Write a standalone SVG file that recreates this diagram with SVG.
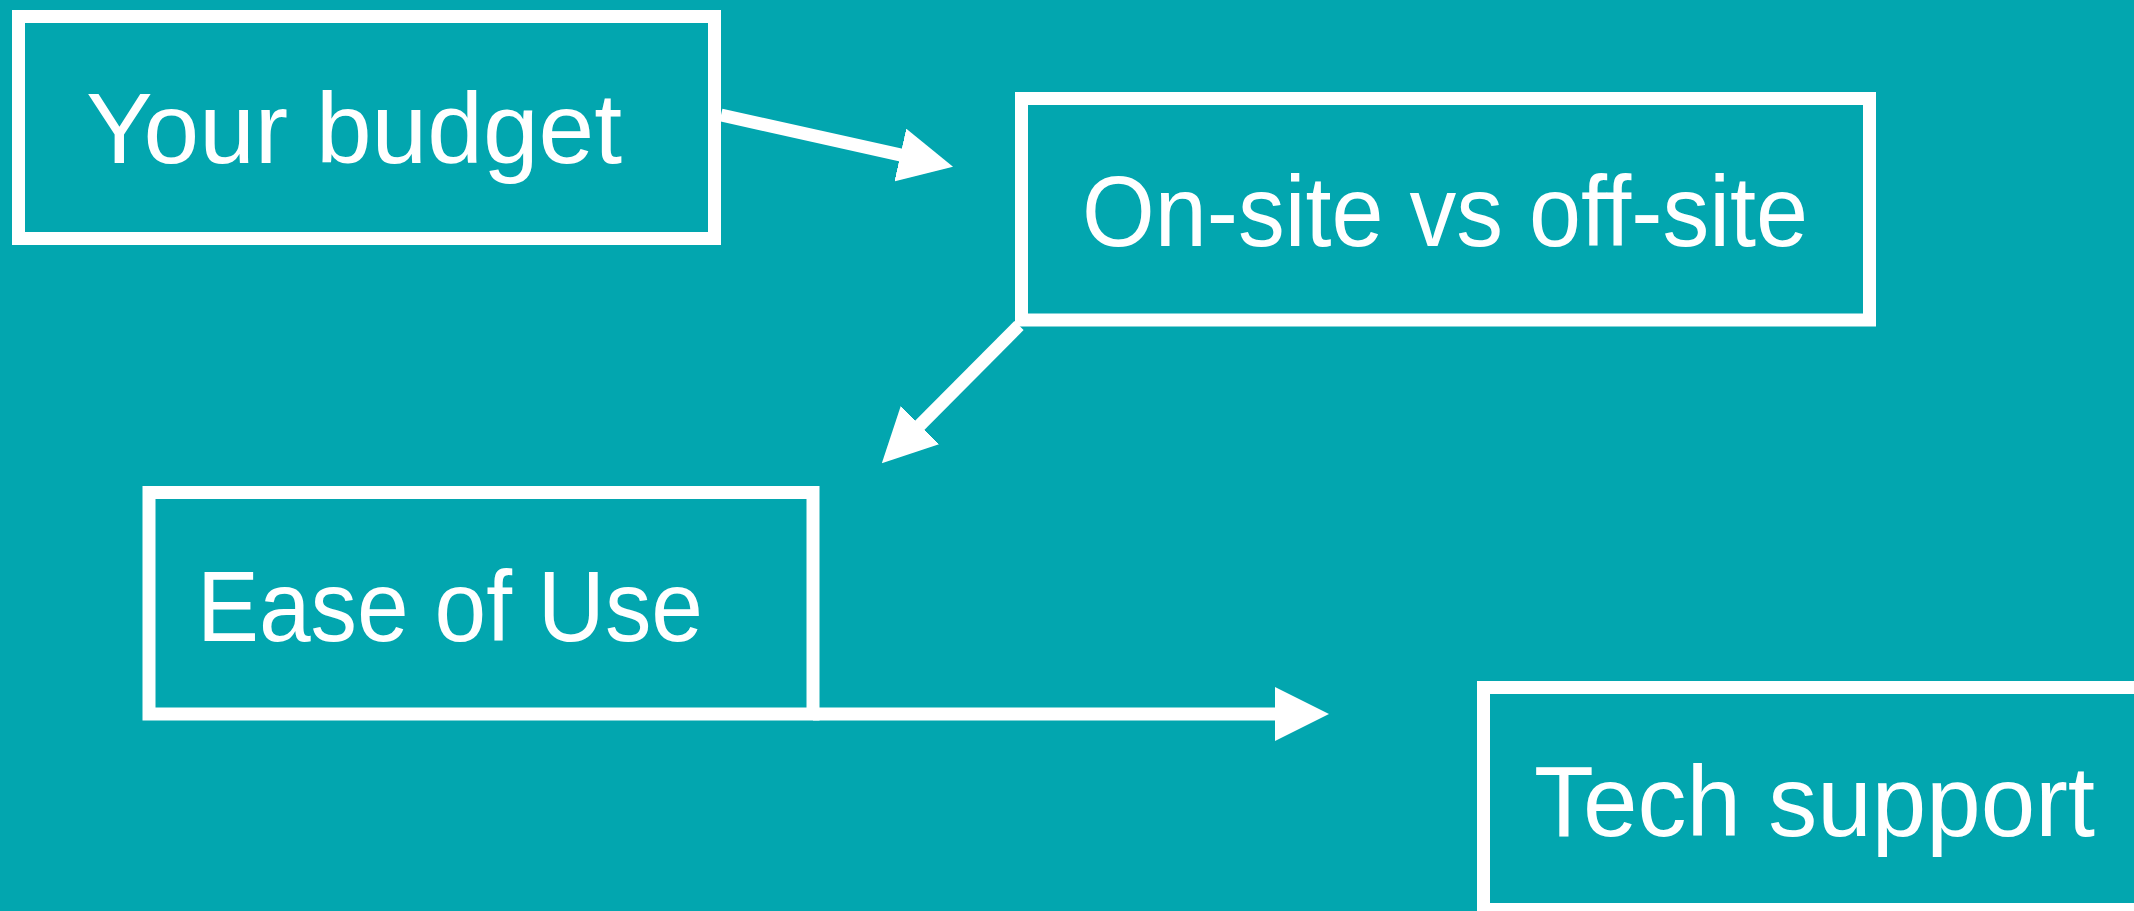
<svg xmlns="http://www.w3.org/2000/svg" width="2134" height="911" viewBox="0 0 2134 911">
  <style>
    .box { fill: none; stroke: #ffffff; stroke-width: 13; }
    .lbl { font-family: "Liberation Sans", Arial, sans-serif; font-size: 100px; fill: #ffffff; }
    .conn { stroke: #ffffff; stroke-width: 13; fill: none; }
  </style>
  <defs>
    <marker id="head" markerUnits="userSpaceOnUse" markerWidth="54" markerHeight="54" viewBox="0 0 54 54" refX="1" refY="27" orient="auto">
      <path d="M0,0 L54,27 L0,54 Z" fill="#ffffff"/>
    </marker>
  </defs>
  <rect x="0" y="0" width="2134" height="911" fill="#02a6af"/>
  <g id="node-budget">
    <rect class="box" x="18.5" y="16.5" width="696" height="222"/>
    <text class="lbl" x="86" y="163" textLength="536" lengthAdjust="spacingAndGlyphs">Your budget</text>
  </g>
  <g id="node-onsite">
    <rect class="box" x="1021.5" y="98.5" width="848" height="221.5"/>
    <text class="lbl" x="1082" y="246" textLength="726" lengthAdjust="spacingAndGlyphs">On-site vs off-site</text>
  </g>
  <g id="node-ease">
    <rect class="box" x="149" y="492.5" width="664" height="221.5"/>
    <text class="lbl" x="197" y="641" textLength="506" lengthAdjust="spacingAndGlyphs">Ease of Use</text>
  </g>
  <g id="node-tech">
    <rect class="box" x="1483.5" y="687.5" width="700" height="222"/>
    <text class="lbl" x="1534" y="836" textLength="561" lengthAdjust="spacingAndGlyphs">Tech support</text>
  </g>
  <g id="connectors">
    <line class="conn" x1="721" y1="115" x2="901.3" y2="155.2" marker-end="url(#head)"/>
    <line class="conn" x1="1019" y1="325.5" x2="919.2" y2="425.8" marker-end="url(#head)"/>
    <line class="conn" x1="813" y1="714" x2="1276" y2="714" marker-end="url(#head)"/>
  </g>
</svg>
